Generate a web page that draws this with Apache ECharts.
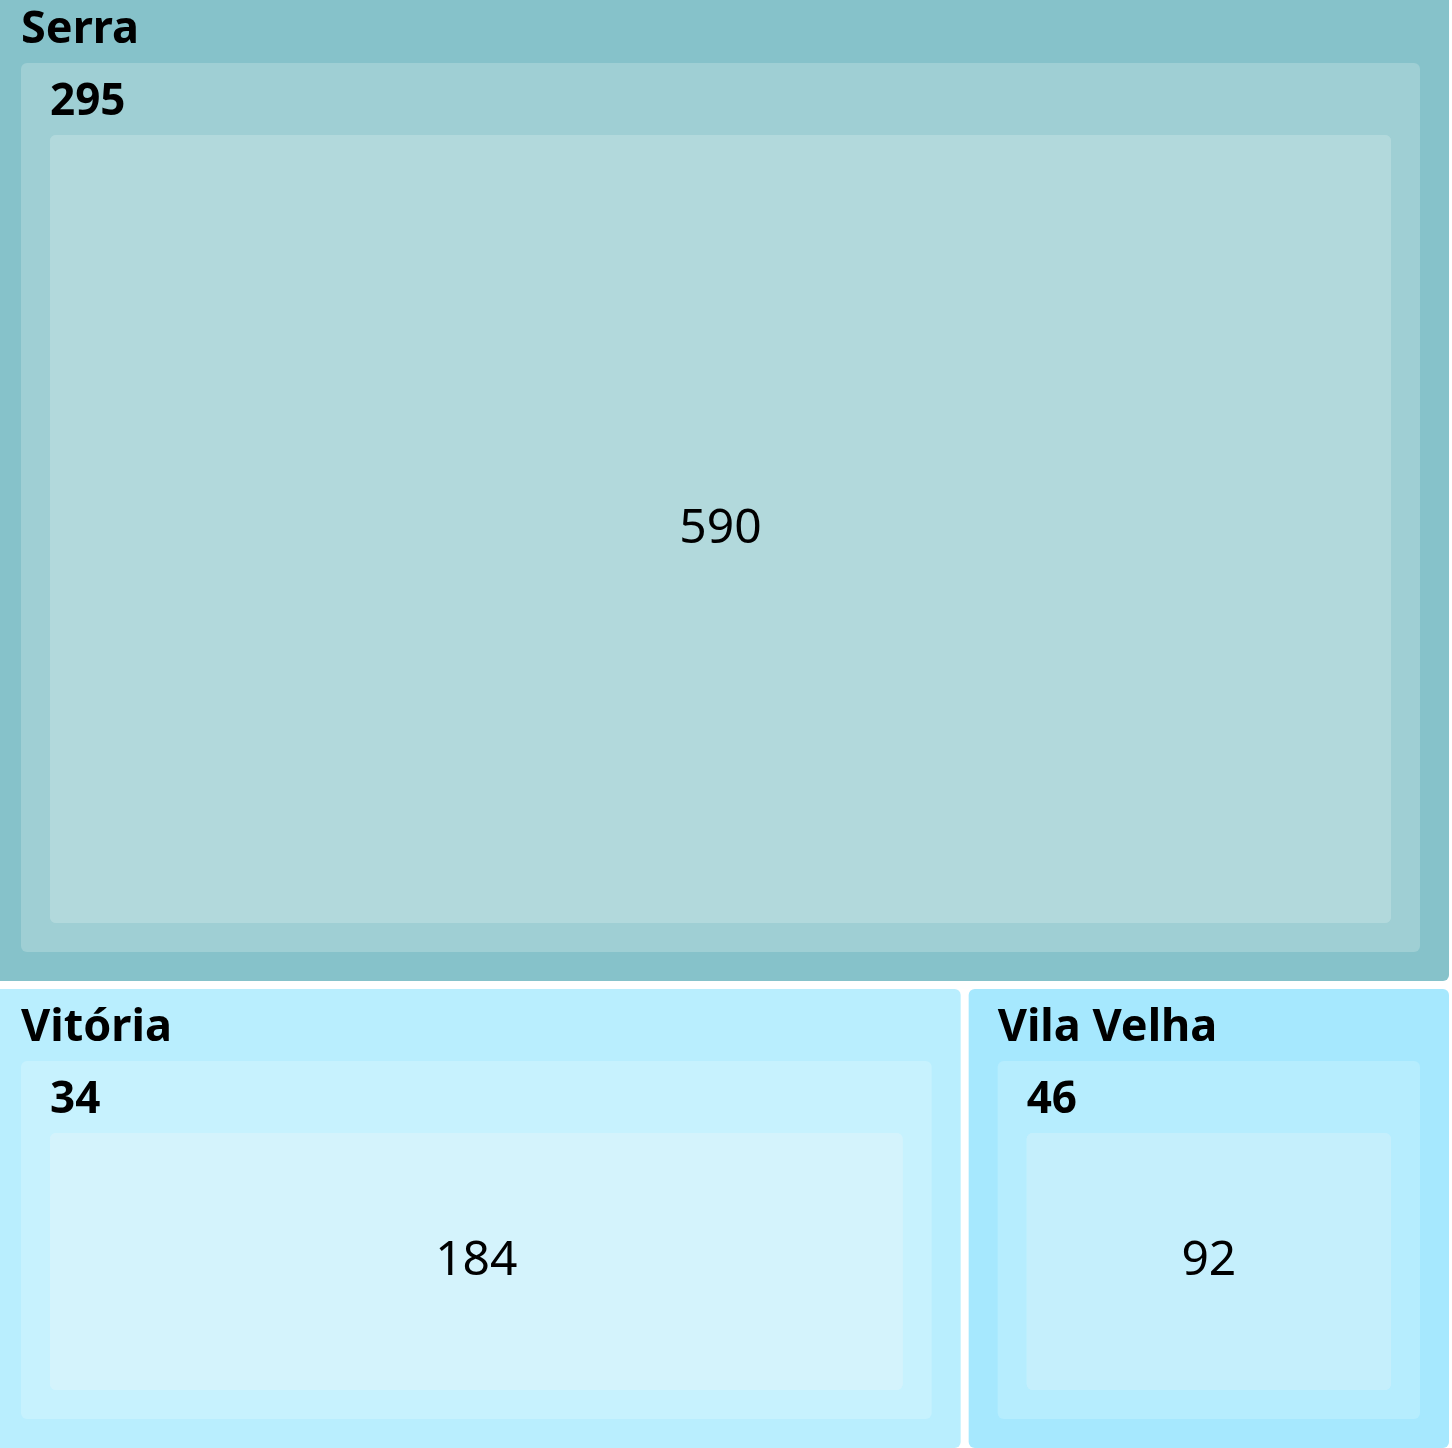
<!DOCTYPE html>
<html>
<head>
<meta charset="utf-8">
<script src="https://cdn.jsdelivr.net/npm/echarts@6/dist/echarts.min.js"></script>
<style>
  html, body { margin: 0; padding: 0; background: #fff; }
  #chart { width: 1452px; height: 1448px; }
</style>
</head>
<body>
<div id="chart"></div>
<script>
// data
var cities = ['Serra', 'Vitória', 'Vila Velha'];
var midLabels = ['295', '34', '46'];
var leafValues = [590, 184, 92];

// colours per city: [outer, middle, leaf]
var palette = [
    ['#86c2ca', '#9fcfd4', '#b2d9dc'],
    ['#b9eefe', '#c7f2fe', '#d4f3fc'],
    ['#a6e8fe', '#b6edfe', '#c5effc']
];

var chart = echarts.init(document.getElementById('chart'));

var treeData = [];
for (var i = 0; i < cities.length; i++) {
    treeData.push({
        name: cities[i],
        itemStyle: { borderColor: palette[i][0], color: palette[i][0] },
        children: [{
            name: midLabels[i],
            itemStyle: { borderColor: palette[i][1], color: palette[i][1] },
            children: [{
                name: String(leafValues[i]),
                value: leafValues[i],
                itemStyle: { color: palette[i][2], borderColor: palette[i][2] }
            }]
        }]
    });
}

function upperText(size) {
    return {
        show: true,
        height: 72,
        color: '#000',
        fontSize: size,
        fontWeight: 'bold',
        fontFamily: 'Noto Sans',
        offset: [0, 3]
    };
}

var option = {
    animation: false,
    series: [{
        type: 'treemap',
        left: -8,
        top: -9,
        width: 1457,
        height: 1457,
        squareRatio: 1,   // keeps Serra alone on the top row
        roam: false,
        nodeClick: false,
        breadcrumb: { show: false },
        label: {
            show: true,
            position: 'inside',
            color: '#000',
            fontSize: 48,
            fontFamily: 'Noto Sans'
        },
        levels: [
            {
                itemStyle: { borderWidth: 0, gapWidth: 8, borderRadius: 6 }
            },
            {
                itemStyle: { borderWidth: 29, gapWidth: 0, borderRadius: 6 },
                upperLabel: upperText(45)
            },
            {
                itemStyle: { borderWidth: 29, gapWidth: 0, borderRadius: 6 },
                upperLabel: upperText(44)
            },
            {
                itemStyle: { borderWidth: 0, gapWidth: 0, borderRadius: 6 }
            }
        ],
        data: treeData
    }]
};

chart.setOption(option);
</script>
</body>
</html>
